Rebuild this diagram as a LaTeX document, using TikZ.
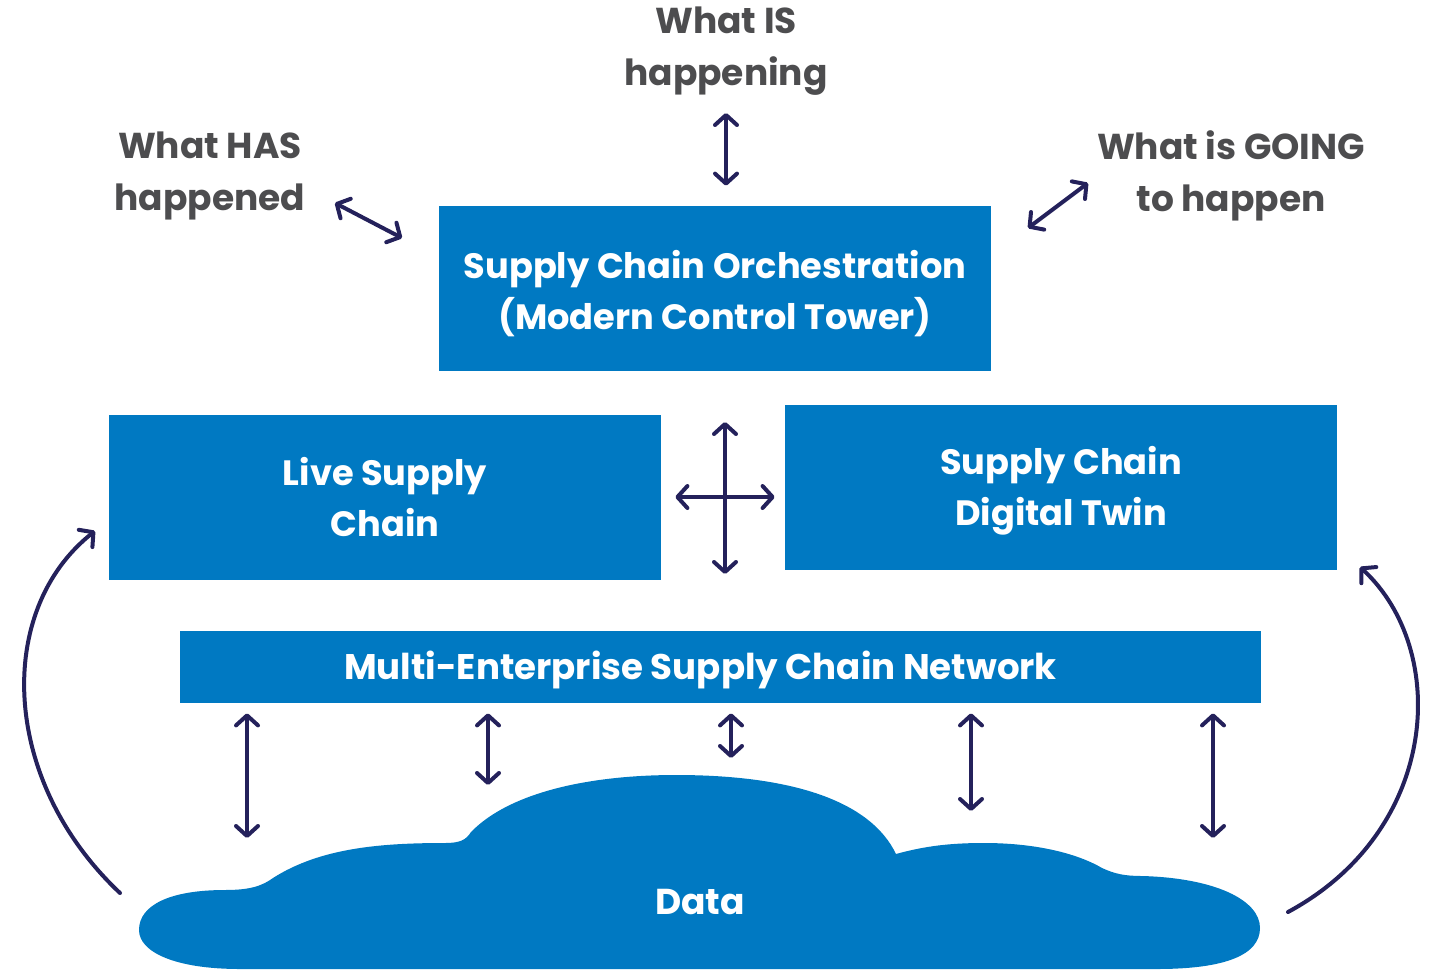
\documentclass[tikz,border=0pt]{standalone}
\usepackage{fontspec}
\setmainfont{Poppins}
\usetikzlibrary{arrows.meta}
\usetikzlibrary{positioning}
\definecolor{scblue}{HTML}{0079C2}
\definecolor{scnavy}{HTML}{24215B}
\definecolor{scgray}{HTML}{4D4D4F}
\newcommand\lift[1]{\rule{0pt}{#1}}
\tikzstyle{block} = [rectangle, fill=scblue, text=white, inner sep=0pt,
    align=center, font=\bfseries\fontsize{17.6}{25.5}\selectfont,
    minimum width=276pt, minimum height=82.5pt]
\tikzstyle{band} = [rectangle, fill=scblue, text=white, inner sep=0pt,
    font=\bfseries\fontsize{17.8}{20}\selectfont]
\tikzstyle{question} = [text=scgray, align=center, inner sep=0pt,
    font=\bfseries\fontsize{18}{26}\selectfont]
\tikzstyle{link} = [draw=scnavy, line width=2pt, line cap=round,
    {Straight Barb[round,length=5pt,width=11pt]}-{Straight Barb[round,length=5pt,width=11pt]}]
\tikzstyle{loop} = [draw=scnavy, line width=2pt, line cap=round,
    -{Straight Barb[round,length=5pt,width=11pt]}]

\begin{document}
\begin{tikzpicture}[x=0.5pt, y=-0.5pt]
  \useasboundingbox (0,0) rectangle (1429,969);

  % Place nodes
  \node [block] (orch) at (715,288.5) {\lift{19.5pt}Supply Chain Orchestration\\(Modern Control Tower)};
  \node [block] (live) at (385,497.5) {Live Supply\\Chain};
  \node [block] (twin) at (1061,487.5) {\lift{17.5pt}Supply Chain\\Digital Twin};
  \node [band, minimum width=540.5pt, minimum height=36pt] (net) at (720.5,667)
        {\lift{17pt}Multi-Enterprise Supply Chain Network\hspace*{20pt}};

  \node [question] (is) at (726,51) {What IS\\happening};
  \node [question] (has) at (210,176) {What HAS\\happened};
  \node [question] (going) at (1231,176) {What is GOING\\to happen};

  % Cloud
  \fill [scblue] (273,878) .. controls (320,848) and (380,843) .. (445,843)
    .. controls (460,843) and (466,840) .. (471,832)
    .. controls (510,792) and (590,775) .. (676,775)
    .. controls (790,775) and (870,800) .. (896,854)
    .. controls (925,846) and (950,843) .. (984,843)
    .. controls (1040,843) and (1080,855) .. (1102,868)
    .. controls (1115,874) and (1125,876) .. (1142,876)
    .. controls (1215,878) and (1260,900) .. (1260,928)
    .. controls (1260,955) and (1225,969) .. (1157,969)
    -- (240,969)
    .. controls (175,969) and (139,952) .. (139,930)
    .. controls (139,905) and (170,890) .. (225,890)
    .. controls (250,890) and (262,886) .. (273,878) -- cycle;
  \node [text=white, font=\bfseries\fontsize{18}{20}\selectfont] (data) at (700,902) {Data};

  % Coordinates for free ends
  \coordinate (isend) at (726,113);
  \coordinate (hasend) at (335,203);
  \coordinate (goingend) at (1088,183);
  \coordinate (orchl) at (402,238);
  \coordinate (orchr) at (1028,228);
  \coordinate (cu) at (725,422);
  \coordinate (cd) at (725,574);
  \coordinate (cr) at (725,497);
  \coordinate (d1) at (247,838);
  \coordinate (d2) at (488,785);
  \coordinate (d3) at (731,758);
  \coordinate (d4) at (971,811);
  \coordinate (d5) at (1213,838);
  \coordinate (lstart) at (120,893);
  \coordinate (lend) at (95,531);
  \coordinate (rstart) at (1288,912);
  \coordinate (rend) at (1360,567);

  % Arrows
  \path [link, shorten >=10pt] (isend) -- (is.south |- orch.north);
  \path [link] (hasend) -- (orchl);
  \path [link] (orchr) -- (goingend);
  \path [link] (cu) -- (cd);
  \path [link, shorten <=7pt, shorten >=5pt] (live.east |- cr) -- (twin.west |- cr);
  \foreach \d in {d1,d2,d3,d4,d5}
    \path [link, shorten <=5pt] (net.south -| \d) -- (\d);

  \path [loop] (lstart) .. controls (0,780) and (-5,610) .. (lend);
  \path [loop] (rstart) .. controls (1440,830) and (1450,650) .. (rend);

\end{tikzpicture}
\end{document}
